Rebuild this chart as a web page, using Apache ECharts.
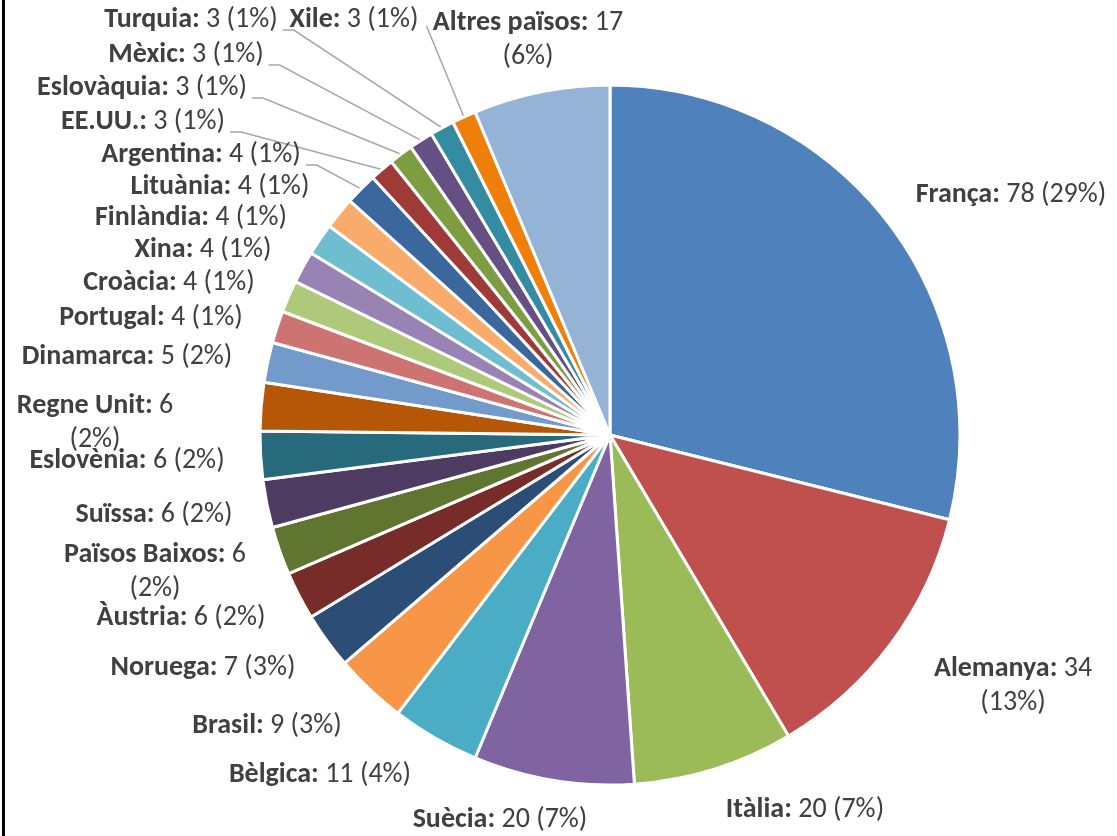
<!DOCTYPE html>
<html>
<head>
<meta charset="utf-8">
<style>
  html, body { margin: 0; padding: 0; background: #fff; }
  #main { position: absolute; left: 0; top: 0; width: 1117px; height: 836px; }
  #frame { position: absolute; left: 2px; top: 0; width: 3px; height: 836px; background: #000; z-index: 5; }
</style>
<script src="https://cdn.jsdelivr.net/npm/echarts@6/dist/echarts.min.js"></script>
</head>
<body>
<div id="main"></div>
<div id="frame"></div>
<script>
// països i nombre
const countries = ['França', 'Alemanya', 'Itàlia', 'Suècia', 'Bèlgica', 'Brasil', 'Noruega', 'Àustria',
  'Països Baixos', 'Suïssa', 'Eslovènia', 'Regne Unit', 'Dinamarca', 'Portugal', 'Croàcia', 'Xina',
  'Finlàndia', 'Lituània', 'Argentina', 'EE.UU.', 'Eslovàquia', 'Mèxic', 'Turquia', 'Xile', 'Altres països']
const counts = [78, 34, 20, 20, 11, 9, 7, 6, 6, 6, 6, 6, 5, 4, 4, 4, 4, 4, 4, 3, 3, 3, 3, 3, 17]
const colors = ['#4F81BD', '#C0504D', '#9BBB59', '#8064A2', '#4BACC6', '#F79646', '#2C4D75', '#772C2A',
  '#5F7530', '#4D3B62', '#276A7C', '#B65708', '#729ACA', '#CD7371', '#AFC97A', '#9983B5',
  '#6FBDD1', '#F9AB6B', '#3A679C', '#9E3B39', '#7E9C40', '#664F82', '#348CA3', '#F07F09', '#95B3D7']
// etiquetes en dues línies i etiquetes amb línia guia
const wrapped = ['Alemanya', 'Països Baixos', 'Regne Unit', 'Altres països']
const guided = ['Argentina', 'EE.UU.', 'Eslovàquia', 'Mèxic', 'Turquia', 'Xile']

const total = counts.reduce((a, b) => a + b, 0)
const font = 'Carlito, Lato, sans-serif'

// posició del centre de cada etiqueta (com al gràfic original)
const labelAt = {
  'França': [1011, 195], 'Alemanya': [1013, 686], 'Itàlia': [805, 810], 'Suècia': [500, 820],
  'Bèlgica': [320, 775], 'Brasil': [267, 726], 'Noruega': [203, 668], 'Àustria': [181, 618],
  'Països Baixos': [155, 572], 'Suïssa': [154, 515], 'Eslovènia': [127, 461], 'Regne Unit': [95, 423],
  'Dinamarca': [127, 357], 'Portugal': [151, 318], 'Croàcia': [169, 283], 'Xina': [203, 250],
  'Finlàndia': [191, 218], 'Lituània': [220, 187], 'Argentina': [201, 155], 'EE.UU.': [143, 122],
  'Eslovàquia': [142, 88], 'Mèxic': [186, 55], 'Turquia': [191, 20], 'Xile': [354, 20],
  'Altres països': [528, 40]
}

const data = countries.map((name, i) => ({
  name,
  value: counts[i],
  itemStyle: { color: colors[i] },
  labelLine: { show: guided.includes(name) }
}))

const myChart = echarts.init(document.getElementById('main'))
myChart.setOption({
  animation: false,
  series: [{
    type: 'pie',
    center: [610, 435],
    radius: 350,
    startAngle: 90,
    clockwise: true,
    data,
    itemStyle: { borderColor: '#fff', borderWidth: 3 },
    label: {
      position: 'outside',
      color: '#404040',
      fontFamily: font,
      fontSize: 28,
      lineHeight: 34,
      formatter: p => {
        const pct = Math.round(p.value / total * 100)
        const sep = wrapped.includes(p.name) ? '\n' : ' '
        return '{b|' + p.name + ':} {n|' + p.value + sep + '(' + pct + '%)}'
      },
      rich: {
        b: { fontWeight: 'bold', color: '#404040', fontSize: 28, lineHeight: 34, fontFamily: font, align: 'center' },
        n: { color: '#404040', fontSize: 28, lineHeight: 34, fontFamily: font, align: 'center' }
      }
    },
    labelLine: {
      show: false,
      length: 10,
      length2: 0,
      lineStyle: { color: '#A6A6A6', width: 1.5 }
    },
    labelLayout: params => {
      const name = countries[params.dataIndex]
      const pos = labelAt[name]
      const out = { x: pos[0], y: pos[1], align: 'center', verticalAlign: 'middle', hideOverlap: false }
      const pts = params.labelLinePoints
      if (guided.includes(name) && pts) {
        const right = pos[0] + params.labelRect.width / 2
        if (name === 'Xile') {
          // línia recta fins a l'etiqueta
          const end = [right + 8, pos[1] + 6]
          out.labelLinePoints = [pts[0], end, end]
        } else {
          const ly = pos[1] + 10
          out.labelLinePoints = [pts[0], [right + 16, ly], [right + 5, ly]]
        }
      }
      return out
    }
  }]
})
</script>
</body>
</html>
